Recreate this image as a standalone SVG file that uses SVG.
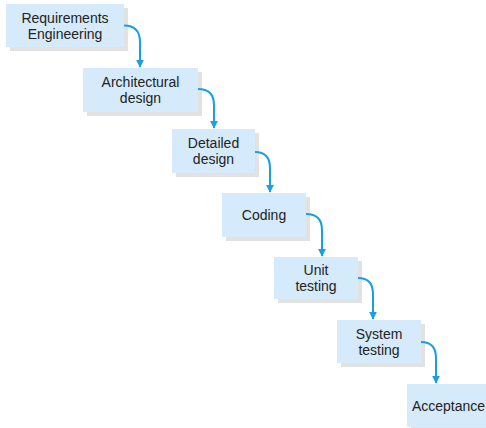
<svg xmlns="http://www.w3.org/2000/svg" width="486" height="428" viewBox="0 0 486 428">
<defs>
<style>
.shadow{fill:#e2e2e2}
.box{fill:#d5eafa}
.lbl{font-family:"Liberation Sans",Arial,sans-serif;font-size:14px;fill:#222;text-anchor:middle}
.conn{fill:none;stroke:#1a9fe6;stroke-width:2}
</style>
<marker id="ah" viewBox="0 0 10 10" refX="9" refY="5" markerWidth="4" markerHeight="4.5" orient="auto" markerUnits="strokeWidth">
<path d="M0,0 L10,5 L0,10 Z" fill="#1a9fe6"/>
</marker>
</defs>
<rect width="486" height="428" fill="#ffffff"/>
<g id="n1">
<rect class="shadow" x="10" y="8" width="118" height="43"/>
<rect class="box" x="6" y="4" width="118" height="43"/>
<text class="lbl" x="65" y="22.5">Requirements</text>
<text class="lbl" x="65" y="38.5">Engineering</text>
</g>
<g id="n2">
<rect class="shadow" x="87" y="72" width="115" height="44"/>
<rect class="box" x="83" y="68" width="115" height="44"/>
<text class="lbl" x="140.5" y="87">Architectural</text>
<text class="lbl" x="140.5" y="103">design</text>
</g>
<g id="n3">
<rect class="shadow" x="176" y="133" width="83" height="44"/>
<rect class="box" x="172" y="129" width="83" height="44"/>
<text class="lbl" x="213.5" y="148">Detailed</text>
<text class="lbl" x="213.5" y="164">design</text>
</g>
<g id="n4">
<rect class="shadow" x="226" y="197" width="84" height="44"/>
<rect class="box" x="222" y="193" width="84" height="44"/>
<text class="lbl" x="264" y="220">Coding</text>
</g>
<g id="n5">
<rect class="shadow" x="278" y="261" width="84" height="42"/>
<rect class="box" x="274" y="257" width="84" height="42"/>
<text class="lbl" x="316" y="275">Unit</text>
<text class="lbl" x="316" y="291">testing</text>
</g>
<g id="n6">
<rect class="shadow" x="341" y="324" width="84" height="43"/>
<rect class="box" x="337" y="320" width="84" height="43"/>
<text class="lbl" x="379" y="338.5">System</text>
<text class="lbl" x="379" y="354.5">testing</text>
</g>
<g id="n7">
<rect class="shadow" x="411" y="388" width="84" height="43"/>
<rect class="box" x="407" y="384" width="84" height="43"/>
<text class="lbl" x="448.5" y="411">Acceptance</text>
</g>
<g id="connectors">
<path class="conn" marker-end="url(#ah)" d="M124,25.5 Q140,25.5 140,42 L140,67"/>
<path class="conn" marker-end="url(#ah)" d="M198,89 Q214,89 214,105 L214,128"/>
<path class="conn" marker-end="url(#ah)" d="M255,152 Q270,152 270,168 L270,192"/>
<path class="conn" marker-end="url(#ah)" d="M306,214 Q322,214 322,230 L322,256"/>
<path class="conn" marker-end="url(#ah)" d="M358,278 Q373,278 373,294 L373,319"/>
<path class="conn" marker-end="url(#ah)" d="M421,342 Q436,342 436,358 L436,383"/>
</g>
</svg>
